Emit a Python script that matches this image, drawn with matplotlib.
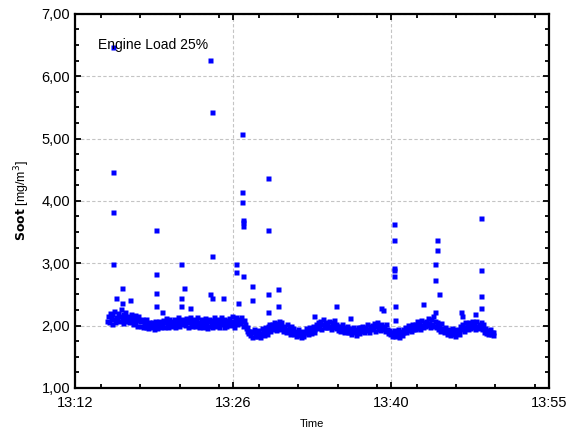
import numpy as np
import matplotlib
matplotlib.use("Agg")
import matplotlib.pyplot as plt
from matplotlib.ticker import FixedLocator, FuncFormatter, MultipleLocator

plt.rcParams['font.family'] = ['Liberation Sans', 'DejaVu Sans']

# baseline soot readings, one every 5 s starting 13:14:54 (one row per minute)
start_min = 14.9
step_min = 1 / 12
soot = [
    2.08, 2.16, 2.05, 2.20, 2.12, 2.02, 2.18, 2.10, 2.24, 2.06, 2.14, 2.09,
    2.20, 2.07, 2.15, 2.26, 2.10, 2.04, 2.18, 2.12, 2.22, 2.08, 2.16, 2.11,
    2.05, 2.14, 2.19, 2.08, 2.02, 2.12, 2.17, 2.06, 2.11, 2.00, 2.15, 2.09,
    2.08, 2.00, 2.11, 1.97, 2.04, 2.07, 1.98, 2.10, 2.02, 1.96, 2.05, 2.01,
    1.97, 2.05, 2.00, 1.95, 2.08, 2.02, 1.96, 2.04, 1.99, 2.07, 1.97, 2.03,
    2.01, 2.09, 1.97, 2.05, 2.12, 2.00, 2.06, 1.98, 2.10, 2.03, 1.99, 2.07,
    2.03, 2.10, 1.98, 2.07, 2.01, 2.13, 2.04, 1.99, 2.08, 2.02, 2.11, 2.05,
    2.09, 2.01, 2.12, 2.05, 1.98, 2.08, 2.14, 2.02, 2.06, 1.99, 2.10, 2.04,
    2.00, 2.08, 2.13, 2.03, 1.97, 2.06, 2.11, 2.01, 2.09, 1.98, 2.05, 2.12,
    2.02, 1.96, 2.07, 2.11, 2.00, 2.05, 1.97, 2.09, 2.03, 2.13, 1.99, 2.06,
    2.10, 2.02, 1.97, 2.08, 2.14, 2.03, 2.06, 1.98, 2.11, 2.04, 2.00, 2.09,
    2.05, 2.12, 2.01, 2.08, 2.15, 2.03, 1.98, 2.10, 2.06, 2.13, 2.02, 2.07,
    2.11, 2.04, 2.14, 2.07, 2.00, 2.09, 2.03, 1.96, 1.92, 1.97, 1.88, 1.91,
    1.85, 1.92, 1.82, 1.89, 1.95, 1.84, 1.90, 1.83, 1.93, 1.86, 1.88, 1.82,
    1.88, 1.96, 1.90, 1.85, 1.98, 1.92, 1.87, 1.99, 1.94, 2.02, 1.91, 1.97,
    2.03, 1.95, 2.06, 1.99, 1.93, 2.04, 1.97, 2.08, 2.00, 1.94, 2.05, 1.98,
    1.92, 2.00, 1.95, 1.89, 2.02, 1.93, 1.97, 1.87, 1.94, 1.99, 1.90, 1.96,
    1.86, 1.91, 1.83, 1.89, 1.94, 1.85, 1.88, 1.82, 1.92, 1.87, 1.84, 1.90,
    1.89, 1.96, 1.91, 1.86, 1.98, 1.93, 1.88, 1.95, 1.99, 1.90, 1.94, 1.97,
    2.02, 1.96, 2.05, 1.99, 2.08, 1.95, 2.03, 2.10, 1.98, 2.01, 2.06, 1.97,
    2.04, 1.98, 2.07, 2.00, 1.95, 2.05, 2.01, 2.09, 1.97, 2.03, 1.96, 2.00,
    1.93, 1.99, 1.91, 1.97, 2.02, 1.94, 1.89, 1.98, 1.92, 1.96, 2.00, 1.90,
    1.90, 1.96, 1.87, 1.93, 1.98, 1.89, 1.95, 1.85, 1.92, 1.97, 1.88, 1.94,
    1.97, 1.91, 2.00, 1.94, 1.89, 1.98, 1.93, 2.02, 1.95, 1.90, 1.99, 1.96,
    1.94, 2.01, 1.96, 2.04, 1.92, 1.99, 2.06, 1.95, 2.00, 1.93, 2.03, 1.98,
    2.00, 1.94, 1.97, 1.91, 2.02, 1.95, 1.88, 1.93, 1.86, 1.90, 1.84, 1.89,
    1.87, 1.93, 1.84, 1.90, 1.86, 1.95, 1.82, 1.91, 1.88, 1.85, 1.94, 1.89,
    1.92, 1.98, 1.90, 1.96, 2.01, 1.93, 1.97, 1.91, 2.03, 1.95, 1.99, 1.94,
    2.02, 1.96, 2.07, 1.99, 2.04, 1.95, 2.09, 2.01, 1.97, 2.06, 2.00, 2.05,
    2.08, 2.01, 2.12, 2.04, 1.98, 2.10, 2.03, 2.15, 2.00, 2.07, 1.97, 2.05,
    2.02, 1.95, 1.99, 1.91, 2.04, 1.96, 1.93, 1.89, 1.98, 1.92, 1.87, 1.94,
    1.88, 1.93, 1.85, 1.91, 1.96, 1.87, 1.90, 1.84, 1.94, 1.89, 1.92, 1.86,
    1.93, 1.99, 1.95, 2.03, 1.97, 1.92, 2.05, 1.98, 2.01, 1.94, 2.06, 1.96,
    2.02, 1.97, 2.07, 1.99, 2.04, 1.95, 2.08, 2.00, 1.96, 2.03, 1.98, 2.05,
    1.99, 1.94, 2.02, 1.90, 1.96, 1.88, 1.93, 1.86, 1.91, 1.95, 1.87, 1.90,
    1.85, 1.89,
]

# peaks above the band (minutes after 13:00, soot)
spike_min = [15.47, 15.47, 15.47, 15.47, 15.69, 16.24, 16.24, 16.96,
             19.32, 19.32, 19.32, 19.32, 19.87, 21.62, 21.86, 21.62, 21.62, 22.41,
             24.22, 24.40, 24.40, 24.22, 24.40, 25.45, 26.58, 26.58, 26.76,
             27.12, 27.12, 27.12, 27.27, 27.27, 27.27, 27.27, 28.03, 28.03,
             29.48, 29.48, 29.48, 29.48, 30.39, 30.39,
             33.65, 35.65, 36.95, 39.82, 40.00,
             40.91, 40.91, 40.91, 40.91, 40.91, 41.09, 41.09,
             43.63, 44.72, 44.72, 44.72, 44.87, 44.87, 45.05,
             47.08, 47.10, 48.35, 48.89, 48.89, 48.89, 48.89]
spike_soot = [6.46, 4.46, 3.82, 2.99, 2.44, 2.61, 2.37, 2.41,
              3.53, 2.82, 2.53, 2.31, 2.21, 2.99, 2.61, 2.44, 2.31, 2.28,
              6.26, 5.43, 3.11, 2.50, 2.44, 2.44, 2.99, 2.86, 2.37,
              5.07, 4.14, 3.98, 3.69, 3.66, 3.59, 2.79, 2.63, 2.41,
              4.37, 3.53, 2.50, 2.21, 2.58, 2.31,
              2.15, 2.31, 2.12, 2.28, 2.25,
              3.63, 3.37, 2.92, 2.89, 2.79, 2.31, 2.09,
              2.34, 2.99, 2.73, 2.21, 3.37, 3.21, 2.50,
              2.21, 2.15, 2.18, 3.72, 2.89, 2.47, 2.28]

x_ticks = [12, 26 + 1 / 3, 40 + 2 / 3, 55]
x_labels = ['13:12', '13:26', '13:40', '13:55']

t = start_min + step_min * np.arange(len(soot))

fig = plt.figure(figsize=(5.77, 4.32), dpi=100)
ax = fig.add_axes([0.130, 0.102, 0.821, 0.866])

blue = '#0000ff'
ax.plot(t, soot, ls='none', marker='s', ms=3.6, color=blue, mec='none')
ax.plot(spike_min, spike_soot, ls='none', marker='s', ms=3.6, color=blue, mec='none')

ax.set_xlim(12, 55)
ax.set_ylim(1, 7)
ax.xaxis.set_major_locator(FixedLocator(x_ticks))
ax.xaxis.set_major_formatter(FuncFormatter(lambda v, p: x_labels[p] if p is not None and p < len(x_labels) else ''))
ax.xaxis.set_minor_locator(MultipleLocator(43 / 12))
ax.yaxis.set_major_locator(MultipleLocator(1))
ax.yaxis.set_minor_locator(MultipleLocator(0.25))
ax.yaxis.set_major_formatter(FuncFormatter(lambda v, p: f'{v:.2f}'.replace('.', ',')))

ax.tick_params(which='both', direction='in', top=True, right=True, labelsize=10.5, width=1.3)
ax.tick_params(which='major', length=4)
ax.tick_params(which='minor', length=3)
ax.tick_params(axis='x', pad=6)
for s in ax.spines.values():
    s.set_linewidth(1.6)

ax.grid(True, which='major', color='#c4c4c4', ls=(0, (3, 2)), lw=0.8)
ax.set_axisbelow(True)

ax.set_xlabel('Time', fontsize=8, labelpad=6)
ax.set_ylabel(r'$\bf{Soot}$ [mg/m$^3$]', fontsize=9, labelpad=7)

ax.text(14.06, 6.5, 'Engine Load 25%', fontsize=10, ha='left', va='center')

fig.savefig('out.png', dpi=100)
